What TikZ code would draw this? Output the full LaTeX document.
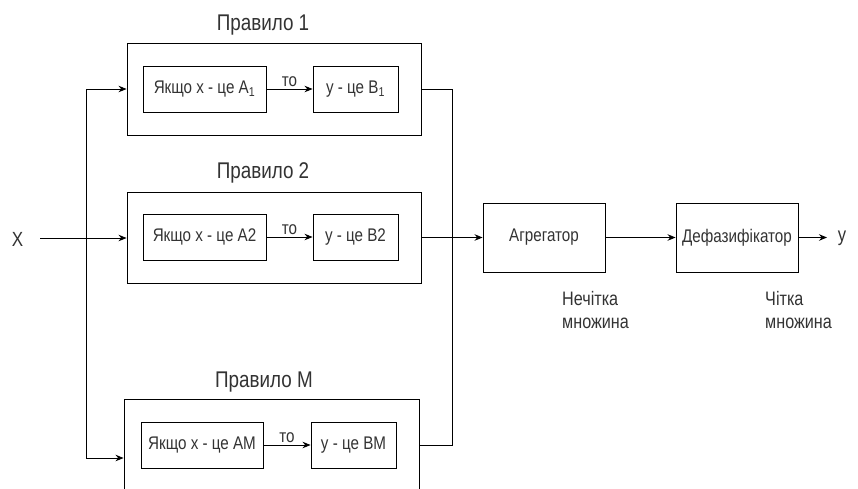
\documentclass[tikz,border=0pt]{standalone}
\usepackage{fontspec}
\setmainfont{Liberation Sans}[FakeStretch=0.83]
\usetikzlibrary{arrows.meta}
\definecolor{txt}{HTML}{333333}
\tikzset{
  box/.style={draw=black, line width=0.9pt, inner sep=0pt, text=txt},
  intext/.style={font=\fontsize{18.3}{20}\selectfont},
  inbox/.style={box, minimum height=46pt, intext},
  title/.style={text=txt, font=\fontsize{22.7}{25}\selectfont},
  lbl/.style={text=txt, font=\fontsize{19.5}{23}\selectfont, align=left, anchor=north west, inner sep=0pt},
  tolbl/.style={text=txt, intext, above, inner sep=1.5pt},
  conn/.style={line width=0.9pt, draw=black},
  arr/.style={conn, -{Stealth[length=8pt,width=6.5pt]}},
}
\begin{document}
\begin{tikzpicture}[x=1pt,y=-1pt]
\useasboundingbox (0,0) rectangle (858,488);
\clip (0,0) rectangle (858,488);
\fill[white] (0,0) rectangle (858,488);
% rule 1
\node[box, minimum width=294pt, minimum height=92pt] (r1) at (274,89) {};
\node[inbox, minimum width=123pt] (a1) at (204.5,89) {Якщо x - це A\textsubscript{1}};
\node[inbox, minimum width=85pt] (b1) at (355.5,89) {y - це B\textsubscript{1}};
\node[title] (t1) at (263,25) {Правило 1};
\draw[arr] (a1) -- node[tolbl] (to1) {то} (b1);
% rule 2
\node[box, minimum width=294pt, minimum height=91pt] (r2) at (274,237.5) {};
\node[inbox, minimum width=123pt] (a2) at (204.5,237) {Якщо x - це A2};
\node[inbox, minimum width=85pt] (b2) at (355.5,237) {y - це B2};
\node[title] (t2) at (263,173) {Правило 2};
\draw[arr] (a2) -- node[tolbl] (to2) {то} (b2);
% rule M
\node[box, minimum width=295pt, minimum height=118pt] (rM) at (271.5,458) {};
\node[inbox, minimum width=122pt] (aM) at (202,445) {Якщо x - це AM};
\node[inbox, minimum width=85pt] (bM) at (353.5,445) {y - це BM};
\node[title] (tM) at (264,382) {Правило M};
\draw[arr] (aM) -- node[tolbl] (toM) {то} (bM);
% aggregator and defuzzifier
\node[box, minimum width=122pt, minimum height=69pt, intext] (agg) at (544,237.5) {Агрегатор};
\node[box, minimum width=122pt, minimum height=69pt, intext] (def) at (737,237.5) {Дефазифікатор};
\node[lbl] (n1) at (562,291) {Нечітка\\множина};
\node[lbl] (n2) at (765,291) {Чітка\\множина};
\node[text=txt, font=\fontsize{20.5}{22}\selectfont] (X) at (17.5,239.5) {X};
\node[text=txt, font=\fontsize{20}{22}\selectfont] (Y) at (842,238) {y};
% coordinates
\coordinate (lt) at (86,89);
\coordinate (lb) at (86,458);
\coordinate (rt) at (452,89);
\coordinate (rb) at (452,445);
\coordinate (xs) at (40,238);
\coordinate (ye) at (827,237.5);
% connectors
\draw[arr] (xs) -- (r2.west |- xs);
\draw[conn] (lt) -- (lb);
\draw[arr] (lt) -- (r1.west |- lt);
\draw[arr] (lb) -- (rM.west |- lb);
\draw[conn] (r1.east |- rt) -- (rt) -- (rb) -- (rM.east |- rb);
\draw[arr] (r2.east |- agg.west) -- (agg.west);
\draw[arr] (agg) -- (def);
\draw[arr] (def.east) -- (ye);
\end{tikzpicture}
\end{document}
